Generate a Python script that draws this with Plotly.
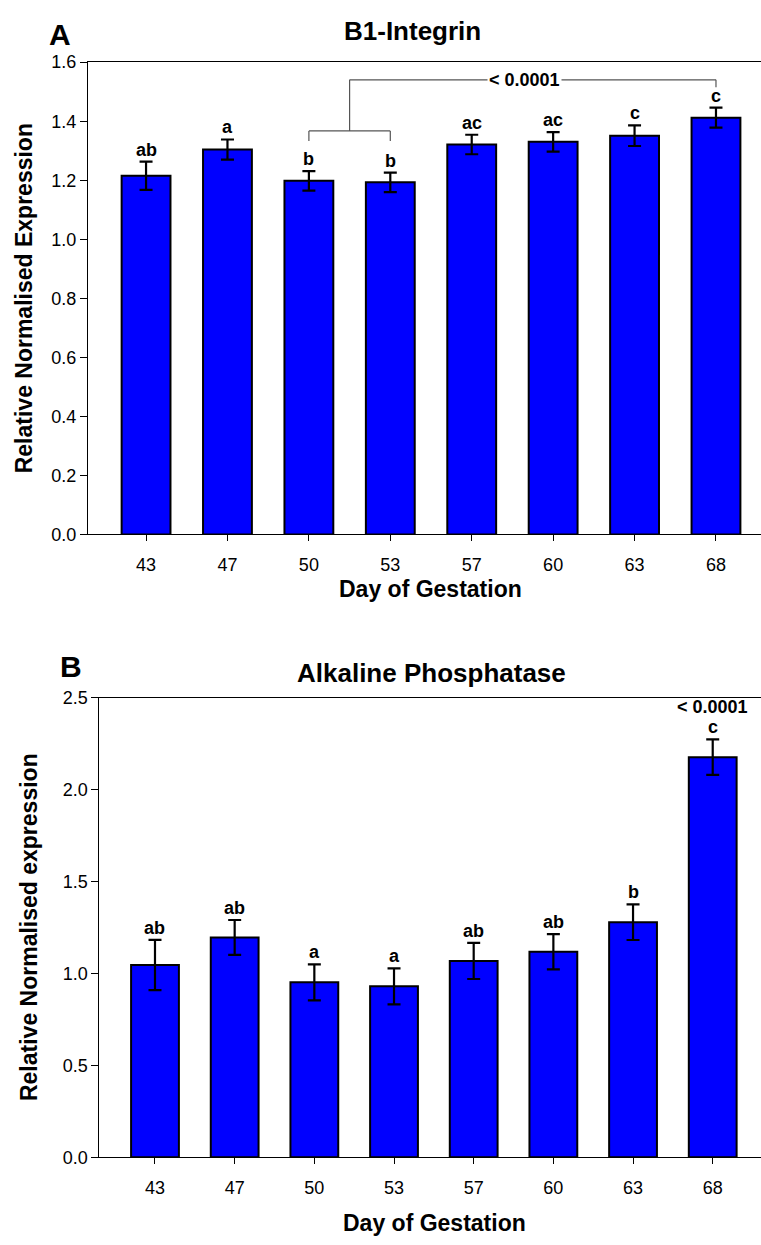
import plotly.graph_objects as go

# Day of gestation (categories shared by both panels)
days = ["43", "47", "50", "53", "57", "60", "63", "68"]

# Panel A: B1-Integrin
integrin_mean = [1.215, 1.304, 1.198, 1.193, 1.321, 1.330, 1.351, 1.412]
integrin_sem = [0.048, 0.034, 0.033, 0.033, 0.033, 0.033, 0.035, 0.034]
integrin_letters = ["ab", "a", "b", "b", "ac", "ac", "c", "c"]

# Panel B: Alkaline Phosphatase
alp_mean = [1.046, 1.196, 0.952, 0.930, 1.068, 1.118, 1.279, 2.177]
alp_sem = [0.137, 0.095, 0.098, 0.098, 0.098, 0.096, 0.097, 0.097]
alp_letters = ["ab", "ab", "a", "a", "ab", "ab", "b", "c"]

p_label = "< 0.0001"

W, H = 761, 1245
FONT = "Liberation Sans, Arial, sans-serif"
BLUE = "#0000FF"

idx = list(range(len(days)))


def px_y(py):
    return 1 - py / H


def px_x(px):
    return px / W


fig = go.Figure()

for mean, sem, xa, ya in [
    (integrin_mean, integrin_sem, "x", "y"),
    (alp_mean, alp_sem, "x2", "y2"),
]:
    fig.add_trace(go.Bar(
        x=idx, y=mean, width=0.6,
        marker=dict(color=BLUE, line=dict(color="black", width=2)),
        error_y=dict(type="data", array=sem, visible=True, color="black",
                     thickness=2.2, width=6.5),
        xaxis=xa, yaxis=ya, showlegend=False, hoverinfo="skip",
    ))

tickfont = dict(family=FONT, size=18, color="black")
common_x = dict(
    tickmode="array", tickvals=idx, ticktext=days, showline=True,
    linecolor="black", linewidth=1, mirror=True, ticks="outside",
    ticklen=6, tickcolor="black", tickfont=tickfont, showgrid=False,
    zeroline=False, ticklabelstandoff=8,
)
common_y = dict(
    showline=True, linecolor="black", linewidth=1, ticks="outside",
    ticklen=7, tickcolor="black", tickfont=tickfont, showgrid=False,
    zeroline=False, tickformat=".1f",
)

fig.update_layout(
    width=W, height=H,
    margin=dict(l=0, r=0, t=0, b=0),
    paper_bgcolor="white", plot_bgcolor="white",
    bargap=0.4,
    xaxis=dict(common_x, domain=[px_x(88), 1], range=[-0.713, 7.553], anchor="y"),
    yaxis=dict(common_y, domain=[px_y(533), px_y(53)], range=[0, 1.6], dtick=0.2,
               anchor="x"),
    xaxis2=dict(common_x, domain=[px_x(99.3), 1], range=[-0.699, 7.606],
                anchor="y2"),
    yaxis2=dict(common_y, domain=[px_y(1166), px_y(699)], range=[0, 2.5],
                dtick=0.5, anchor="x2"),
)

ann = []
bold = dict(family=FONT, color="black", weight="bold")

# Significance letters above error bars
for mean, sem, letters, xa, ya in [
    (integrin_mean, integrin_sem, integrin_letters, "x", "y"),
    (alp_mean, alp_sem, alp_letters, "x2", "y2"),
]:
    for i, (m, s, t) in enumerate(zip(mean, sem, letters)):
        ann.append(dict(x=i, y=m + s, xref=xa, yref=ya, text=t, showarrow=False,
                        yanchor="bottom", yshift=1, borderpad=0,
                        font=dict(bold, size=18)))

# p-value over the day 68 bar in panel B
ann.append(dict(x=7, y=alp_mean[7] + alp_sem[7], xref="x2", yref="y2",
                text=p_label, showarrow=False, yanchor="bottom", yshift=21,
                borderpad=0, font=dict(bold, size=18)))

# Bracket p-value label in panel A
ann.append(dict(x=4.65, y=1.54, xref="x", yref="y", text=p_label,
                showarrow=False, yanchor="middle", bgcolor="white", borderpad=1,
                font=dict(bold, size=18)))

# Panel titles, letters and axis titles
ann += [
    dict(x=px_x(412), y=px_y(21), xref="paper", yref="paper", text="B1-Integrin",
         showarrow=False, xanchor="center", yanchor="middle",
         font=dict(bold, size=26)),
    dict(x=px_x(431), y=px_y(674), xref="paper", yref="paper",
         text="Alkaline Phosphatase", showarrow=False, xanchor="center",
         yanchor="middle", font=dict(bold, size=26)),
    dict(x=px_x(60), y=px_y(25), xref="paper", yref="paper", text="A",
         showarrow=False, xanchor="center", yanchor="middle",
         font=dict(bold, size=30)),
    dict(x=px_x(71), y=px_y(667), xref="paper", yref="paper", text="B",
         showarrow=False, xanchor="center", yanchor="middle",
         font=dict(bold, size=30)),
    dict(x=px_x(24), y=px_y(293), xref="paper", yref="paper",
         text="Relative Normalised Expression", textangle=-90, showarrow=False,
         xanchor="center", yanchor="middle", font=dict(bold, size=23)),
    dict(x=px_x(29), y=px_y(932), xref="paper", yref="paper",
         text="Relative Normalised expression", textangle=-90, showarrow=False,
         xanchor="center", yanchor="middle", font=dict(bold, size=23)),
    dict(x=px_x(430), y=px_y(588), xref="paper", yref="paper",
         text="Day of Gestation", showarrow=False, xanchor="center",
         yanchor="middle", font=dict(bold, size=23)),
    dict(x=px_x(434), y=px_y(1233), xref="paper", yref="paper",
         text="Day of Gestation", showarrow=False, xanchor="center",
         yanchor="middle", font=dict(bold, size=23)),
]
fig.update_layout(annotations=ann)

# Comparison bracket: days 50 & 53 grouped against day 68
gray = dict(color="#555555", width=1.2)
shapes = [
    dict(type="line", xref="x", yref="y", x0=2, x1=3, y0=1.367, y1=1.367, line=gray),
    dict(type="line", xref="x", yref="y", x0=2, x1=2, y0=1.367, y1=1.333, line=gray),
    dict(type="line", xref="x", yref="y", x0=3, x1=3, y0=1.367, y1=1.333, line=gray),
    dict(type="line", xref="x", yref="y", x0=2.5, x1=2.5, y0=1.367, y1=1.54, line=gray),
    dict(type="line", xref="x", yref="y", x0=2.5, x1=7, y0=1.54, y1=1.54, line=gray),
    dict(type="line", xref="x", yref="y", x0=7, x1=7, y0=1.54, y1=1.515, line=gray),
]
fig.update_layout(shapes=shapes)

fig.write_html("out.html")
